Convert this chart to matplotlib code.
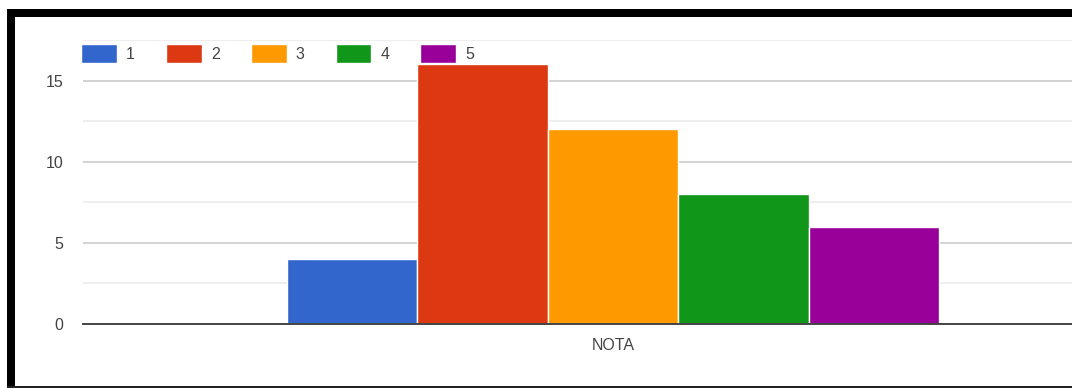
import numpy as np
import matplotlib
matplotlib.use("Agg")
import matplotlib.pyplot as plt
from matplotlib.patches import Rectangle

# Respostas por nota
categoria = ["NOTA"]
notas = ["1", "2", "3", "4", "5"]
contagens = [4, 16, 12, 8, 6]
cores = ["#3366cc", "#dc3912", "#ff9900", "#109618", "#990099"]

plt.rcParams["font.family"] = ["Liberation Sans", "DejaVu Sans"]

fig = plt.figure(figsize=(10.72, 3.88), dpi=100)
ax = fig.add_axes([83 / 1072, 64 / 388, 1060 / 1072, 284 / 388])

largura = 0.1232
x = np.arange(len(categoria))
for i, (nota, valor, cor) in enumerate(zip(notas, contagens, cores)):
    desloc = (i - (len(notas) - 1) / 2) * largura
    ax.bar(x + desloc, [valor], largura, color=cor, edgecolor="white",
           linewidth=1, label=nota, zorder=3)

ax.set_xlim(-0.5, 0.5)
ax.set_ylim(0, 17.5)
ax.set_yticks([0, 5, 10, 15])
ax.set_yticks([2.5, 7.5, 12.5, 17.5], minor=True)
ax.set_xticks(x)
ax.set_xticklabels(categoria)

ax.grid(axis="y", which="major", color="#cccccc", linewidth=1.2, zorder=0)
ax.grid(axis="y", which="minor", color="#ebebeb", linewidth=1.2, zorder=0)
for lado in ["top", "right", "left"]:
    ax.spines[lado].set_visible(False)
ax.spines["bottom"].set_color("#444444")
ax.spines["bottom"].set_linewidth(1.4)
ax.spines["bottom"].set_zorder(4)

ax.tick_params(axis="both", which="both", length=0, labelsize=11.5,
               labelcolor="#444444")
ax.tick_params(axis="y", pad=14)
ax.tick_params(axis="x", pad=10)

leg = ax.legend(loc="upper left", bbox_to_anchor=(-0.003, 0.99), ncol=5,
                frameon=False, fontsize=11.5, handlelength=2.25,
                handleheight=1.45, handletextpad=0.55, columnspacing=1.95,
                borderaxespad=0, borderpad=0.1)
for h in leg.legend_handles:
    h.set_edgecolor("white")
for t in leg.get_texts():
    t.set_color("#444444")

# moldura preta em volta do gráfico
fig.add_artist(Rectangle((7 / 1072, 371 / 388), 1, 8 / 388,
                         transform=fig.transFigure, color="black", lw=0))
fig.add_artist(Rectangle((7 / 1072, 1 / 388), 8 / 1072, 372 / 388,
                         transform=fig.transFigure, color="black", lw=0))
fig.add_artist(Rectangle((7 / 1072, 0.5 / 388), 1, 2 / 388,
                         transform=fig.transFigure, color="#222222", lw=0))

fig.savefig("out.png", dpi=100)
